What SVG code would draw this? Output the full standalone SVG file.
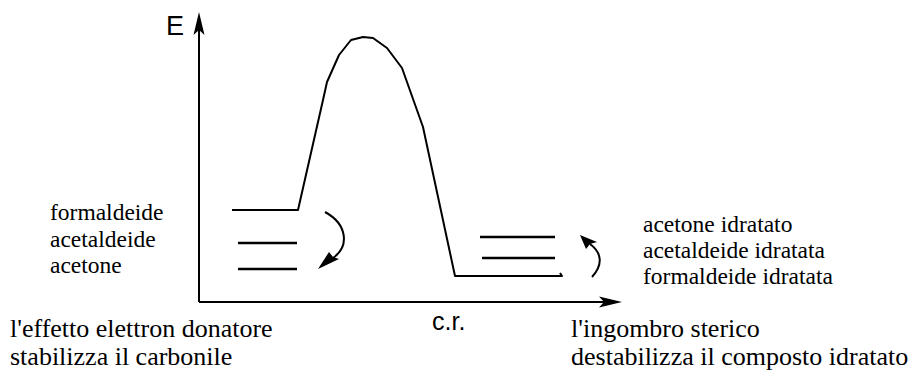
<svg xmlns="http://www.w3.org/2000/svg" width="923" height="374" viewBox="0 0 923 374">
<style>
.ln{fill:none;stroke:#000;stroke-width:2;stroke-linejoin:round}
.lv{fill:none;stroke:#000;stroke-width:2.5}
.ah{fill:#000;stroke:none}
.lab{font-family:"Liberation Serif","Times New Roman",serif;font-size:23.5px;fill:#000}
.cap{font-family:"Liberation Serif","Times New Roman",serif;font-size:26px;fill:#000}
.ax{font-family:"Liberation Sans",Arial,sans-serif;fill:#000}
</style>
<rect width="923" height="374" fill="#fff"/>
<g id="axes">
<line class="ln" x1="199" y1="302" x2="199" y2="28"/>
<polygon class="ah" points="199,12 193.5,35 199,30 204.5,35"/>
<line class="ln" x1="199" y1="302" x2="606" y2="302"/>
<polygon class="ah" points="622,302 599,296.5 604,302 599,307.5"/>
<text class="ax" x="166" y="35" font-size="27">E</text>
<text class="ax" x="432" y="330" font-size="25">c.r.</text>
</g>
<g id="profile">
<path class="ln" d="M232,210 L298,210 L323,100 L327,82 L339,55 L351,40 L363,37 L373,38 L387,48 L402,68 L423,127 L455,276 L562,276 L560,273"/>
</g>
<g id="reactant-levels">
<line class="lv" x1="238" y1="243" x2="297" y2="243"/>
<line class="lv" x1="238" y1="269" x2="297" y2="269"/>
<text class="lab" x="50" y="220">formaldeide</text>
<text class="lab" x="50" y="247">acetaldeide</text>
<text class="lab" x="50" y="273">acetone</text>
</g>
<g id="product-levels">
<line class="lv" x1="480" y1="237" x2="555" y2="237"/>
<line class="lv" x1="482" y1="258" x2="555" y2="258"/>
<text class="lab" x="643" y="232">acetone idratato</text>
<text class="lab" x="643" y="258">acetaldeide idratata</text>
<text class="lab" x="643" y="284">formaldeide idratata</text>
</g>
<g id="connectors">
<path class="ln" d="M325,212 C347,224 350,246 333,258"/>
<polygon class="ah" points="318,269 329,252 333,257 339,259"/>
<path class="ln" d="M592,277 C604,264 601,252 590,244"/>
<polygon class="ah" points="580,235 586,249 590,244 597,242"/>
</g>
<g id="captions">
<text class="cap" x="10" y="337">l'effetto elettron donatore</text>
<text class="cap" x="10" y="365">stabilizza il carbonile</text>
<text class="cap" x="571" y="337">l'ingombro sterico</text>
<text class="cap" x="571" y="365">destabilizza il composto idratato</text>
</g>
</svg>
